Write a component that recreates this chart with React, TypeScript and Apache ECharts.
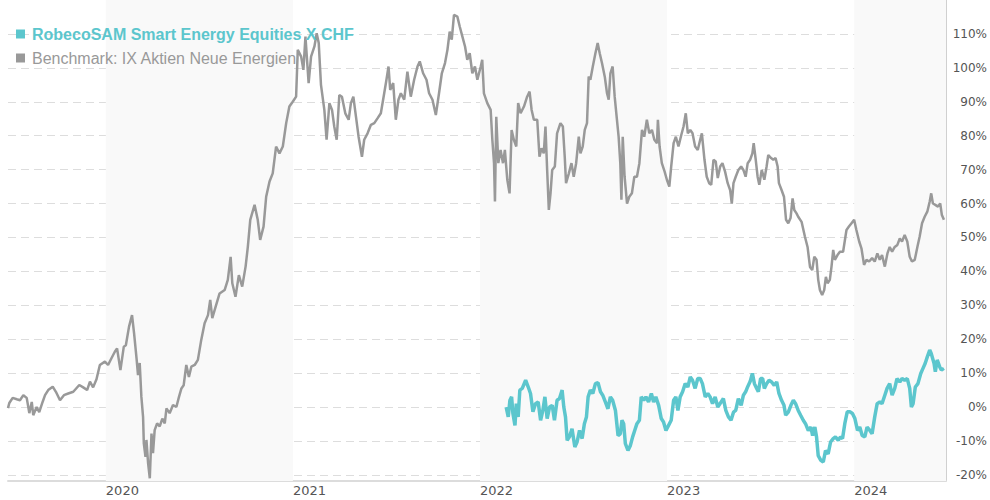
import React, { useEffect, useRef } from "react";
import * as echarts from "echarts";

// Dates as decimal years, values in %
const benchmarkDates: number[] = [
  2019.477, 2019.484, 2019.502, 2019.524, 2019.541, 2019.559, 2019.577, 2019.591, 2019.604, 2019.612,
  2019.630, 2019.644, 2019.662, 2019.675, 2019.692, 2019.716, 2019.733, 2019.755, 2019.776, 2019.799,
  2019.826, 2019.858, 2019.879, 2019.900, 2019.915, 2019.932, 2019.950, 2019.968, 2019.995, 2020.012,
  2020.030, 2020.048, 2020.060, 2020.078, 2020.096, 2020.107, 2020.124, 2020.140, 2020.151, 2020.164,
  2020.172, 2020.181, 2020.190, 2020.199, 2020.203, 2020.212, 2020.217, 2020.226, 2020.235, 2020.244,
  2020.252, 2020.261, 2020.274, 2020.288, 2020.302, 2020.315, 2020.324, 2020.341, 2020.359, 2020.377,
  2020.391, 2020.404, 2020.416, 2020.430, 2020.444, 2020.457, 2020.475, 2020.492, 2020.510, 2020.528,
  2020.546, 2020.558, 2020.569, 2020.587, 2020.608, 2020.635, 2020.652, 2020.667, 2020.676, 2020.693,
  2020.711, 2020.729, 2020.747, 2020.759, 2020.772, 2020.795, 2020.812, 2020.825, 2020.843, 2020.857,
  2020.875, 2020.892, 2020.910, 2020.928, 2020.946, 2020.964, 2020.981, 2020.999, 2021.017, 2021.026,
  2021.044, 2021.056, 2021.067, 2021.084, 2021.097, 2021.115, 2021.127, 2021.138, 2021.150, 2021.168,
  2021.180, 2021.195, 2021.209, 2021.221, 2021.234, 2021.248, 2021.262, 2021.280, 2021.298, 2021.310,
  2021.323, 2021.337, 2021.351, 2021.369, 2021.381, 2021.399, 2021.417, 2021.435, 2021.452, 2021.470,
  2021.488, 2021.500, 2021.511, 2021.520, 2021.536, 2021.550, 2021.564, 2021.577, 2021.595, 2021.612,
  2021.630, 2021.648, 2021.666, 2021.678, 2021.696, 2021.714, 2021.728, 2021.746, 2021.764, 2021.781,
  2021.796, 2021.813, 2021.826, 2021.838, 2021.849, 2021.861, 2021.879, 2021.892, 2021.906, 2021.920,
  2021.932, 2021.945, 2021.959, 2021.973, 2021.986, 2022.004, 2022.012, 2022.021, 2022.039, 2022.057,
  2022.066, 2022.075, 2022.080, 2022.087, 2022.098, 2022.110, 2022.123, 2022.133, 2022.146, 2022.158,
  2022.169, 2022.181, 2022.194, 2022.204, 2022.217, 2022.235, 2022.252, 2022.265, 2022.276, 2022.288,
  2022.306, 2022.318, 2022.329, 2022.341, 2022.350, 2022.359, 2022.368, 2022.377, 2022.386, 2022.400,
  2022.412, 2022.430, 2022.443, 2022.453, 2022.460, 2022.475, 2022.489, 2022.501, 2022.514, 2022.528,
  2022.537, 2022.549, 2022.560, 2022.572, 2022.581, 2022.590, 2022.603, 2022.617, 2022.629, 2022.640,
  2022.652, 2022.667, 2022.679, 2022.688, 2022.697, 2022.709, 2022.720, 2022.732, 2022.741, 2022.750,
  2022.756, 2022.763, 2022.773, 2022.786, 2022.798, 2022.812, 2022.825, 2022.839, 2022.852, 2022.866,
  2022.878, 2022.892, 2022.905, 2022.919, 2022.932, 2022.946, 2022.951, 2022.960, 2022.972, 2022.987,
  2022.999, 2023.012, 2023.022, 2023.035, 2023.047, 2023.061, 2023.076, 2023.088, 2023.100, 2023.111,
  2023.124, 2023.136, 2023.150, 2023.164, 2023.177, 2023.186, 2023.200, 2023.212, 2023.225, 2023.236,
  2023.248, 2023.260, 2023.271, 2023.284, 2023.296, 2023.310, 2023.324, 2023.337, 2023.346, 2023.355,
  2023.367, 2023.381, 2023.396, 2023.408, 2023.420, 2023.431, 2023.444, 2023.456, 2023.463, 2023.474,
  2023.484, 2023.493, 2023.506, 2023.520, 2023.532, 2023.541, 2023.556, 2023.568, 2023.580, 2023.591,
  2023.598, 2023.612, 2023.625, 2023.636, 2023.648, 2023.660, 2023.671, 2023.680, 2023.692, 2023.701,
  2023.719, 2023.737, 2023.751, 2023.764, 2023.776, 2023.787, 2023.799, 2023.808, 2023.817, 2023.829,
  2023.840, 2023.849, 2023.858, 2023.870, 2023.879, 2023.888, 2023.897, 2023.911, 2023.924, 2023.941,
  2023.959, 2023.972, 2023.986, 2024.000, 2024.012, 2024.027, 2024.039, 2024.053, 2024.066, 2024.080,
  2024.096, 2024.110, 2024.124, 2024.137, 2024.149, 2024.164, 2024.178, 2024.190, 2024.203, 2024.217,
  2024.231, 2024.244, 2024.256, 2024.270, 2024.284, 2024.297, 2024.309, 2024.324, 2024.338, 2024.350,
  2024.363, 2024.377, 2024.391, 2024.404, 2024.412, 2024.421, 2024.434, 2024.448, 2024.460, 2024.469,
  2024.480,
];
const benchmarkValues: number[] = [
  -0.3, 1.2, 2.7, 2.3, 2, 3.5, 2.7, -1.8, 1.5, -2.4,
  0, -1.5, 1.5, 3.5, 5, 6, 4.5, 2, 3.5, 4,
  4.5, 6.5, 5.8, 5, 7.5, 5.8, 8.2, 12.4, 13.4, 12.4,
  14.4, 16.3, 17.3, 10.9, 17.8, 18.2, 23.7, 27.1, 21.7, 14.4,
  9.4, 13, 3, -2.9, -10.7, -14.7, -9.7, -16.6, -21, -7.8,
  -13.6, -6.8, -4.8, -5.7, -3.4, -4.8, -0.4, -1.8, 0.6, 0,
  3, 5.5, 6.4, 12.4, 8.9, 11.9, 12.4, 13.9, 19.8, 24.7,
  27.1, 31.6, 26.2, 29.6, 33.5, 34.5, 37.5, 44.3, 36.5, 32.5,
  38.9, 35.5, 41.4, 47.2, 55.2, 59.6, 55.2, 49.3, 53.2, 62,
  66.5, 68.9, 76.8, 74.8, 76.8, 83.7, 88.6, 90, 91.5, 105.3,
  103.3, 99.4, 109.2, 95.5, 103.3, 106.3, 110.2, 107.3, 95, 87.6,
  78.8, 89.6, 87.6, 82.7, 78.8, 92, 91.5, 86.6, 84.7, 89.6,
  91.5, 85.6, 79.7, 73.8, 78.8, 80.7, 83.2, 83.7, 85.1, 86.6,
  92.5, 96.5, 100.4, 93.5, 95.5, 84.7, 90.6, 92.5, 90.6, 98.9,
  91.5, 96.5, 100.4, 101.9, 98.4, 96.5, 92.5, 90.6, 86.1, 92.5,
  98.4, 101.4, 105.3, 110.7, 108.3, 115.6, 115.1, 112.1, 109.2, 106.3,
  102.4, 104.3, 98.4, 100.4, 96.5, 100.4, 102.4, 92.5, 89.6, 87.6,
  78.8, 71.9, 60.6, 85.6, 71.9, 75.8, 71.9, 75.8, 67, 63,
  81.7, 78.8, 76.8, 89.6, 86.6, 88.6, 91.5, 93, 87.6, 84.7,
  84.7, 73.8, 76.3, 74.8, 82.7, 69.9, 58.1, 63, 69.9, 70.9,
  80.7, 83.7, 82.7, 73.8, 66, 68.9, 71.9, 67.9, 71.9, 79.7,
  74.8, 76.8, 81.7, 83.7, 97.4, 96.5, 100.4, 104.3, 107.3, 104.3,
  101.4, 97.4, 92.5, 90.6, 98.4, 100.4, 91.5, 84.7, 79.7, 71.9,
  61.1, 79.7, 67.9, 60, 62, 63, 67.9, 67.9, 71.9, 81.7,
  79.7, 84.7, 80.7, 81.7, 78.8, 77.8, 84.7, 76.8, 71.9, 69.4,
  67, 65, 70.9, 77.8, 79.7, 76.8, 80.2, 82.7, 86.6, 80.7,
  81.7, 80.7, 76.8, 75.8, 78.8, 80.7, 72.9, 67.9, 66, 65.5,
  72.9, 72.4, 67.5, 70.9, 71.9, 69.4, 66, 64, 60, 66,
  67.9, 69.9, 70.9, 69.9, 67.9, 71.9, 72.9, 74.8, 77.8, 72.9,
  67.9, 65.5, 69.9, 67, 70.9, 74.3, 73.4, 72.9, 73.4, 70.9,
  66, 64, 62, 55.2, 54.2, 55.7, 61.5, 58.1, 57.1, 56.1,
  54.6, 50.2, 47.2, 41.3, 40.4, 44.3, 43.4, 37.5, 34.5, 33,
  34.5, 38.4, 36.5, 37.5, 41.4, 46.3, 43.4, 44.8, 45.8, 45.8,
  52.2, 53.2, 54.2, 55.2, 52.2, 48.8, 46.8, 41.9, 43.4, 42.9,
  43.9, 42.9, 45.3, 43.4, 44.8, 41.4, 45.3, 47.2, 45.8, 47.2,
  47.8, 49.7, 48.8, 50.7, 48.8, 44.3, 42.9, 43.4, 47.2, 50.2,
  54.2, 56.1, 57.6, 60.6, 63, 60, 59.6, 59.1, 60, 56.6,
  55.2,
];

const fundDates: number[] = [
  2022.140, 2022.151, 2022.160, 2022.169, 2022.176, 2022.187, 2022.194, 2022.204, 2022.213, 2022.226,
  2022.244, 2022.258, 2022.270, 2022.283, 2022.297, 2022.311, 2022.324, 2022.336, 2022.347, 2022.359,
  2022.372, 2022.386, 2022.398, 2022.412, 2022.425, 2022.439, 2022.448, 2022.457, 2022.466, 2022.478,
  2022.492, 2022.507, 2022.519, 2022.532, 2022.546, 2022.558, 2022.569, 2022.578, 2022.590, 2022.603,
  2022.617, 2022.631, 2022.644, 2022.656, 2022.670, 2022.684, 2022.697, 2022.709, 2022.724, 2022.738,
  2022.750, 2022.759, 2022.768, 2022.777, 2022.791, 2022.804, 2022.816, 2022.827, 2022.839, 2022.852,
  2022.862, 2022.875, 2022.887, 2022.901, 2022.916, 2022.928, 2022.940, 2022.955, 2022.969, 2022.981,
  2022.994, 2023.008, 2023.022, 2023.035, 2023.047, 2023.058, 2023.070, 2023.083, 2023.097, 2023.111,
  2023.124, 2023.136, 2023.150, 2023.164, 2023.177, 2023.189, 2023.204, 2023.218, 2023.230, 2023.243,
  2023.257, 2023.271, 2023.289, 2023.301, 2023.314, 2023.328, 2023.342, 2023.355, 2023.367, 2023.381,
  2023.396, 2023.408, 2023.420, 2023.431, 2023.444, 2023.456, 2023.467, 2023.479, 2023.488, 2023.500,
  2023.511, 2023.520, 2023.532, 2023.545, 2023.559, 2023.573, 2023.586, 2023.598, 2023.612, 2023.625,
  2023.634, 2023.648, 2023.662, 2023.675, 2023.687, 2023.701, 2023.714, 2023.728, 2023.740, 2023.755,
  2023.769, 2023.778, 2023.790, 2023.799, 2023.808, 2023.822, 2023.835, 2023.847, 2023.861, 2023.874,
  2023.888, 2023.900, 2023.915, 2023.927, 2023.938, 2023.950, 2023.963, 2023.977, 2023.991, 2024.004,
  2024.018, 2024.030, 2024.043, 2024.057, 2024.069, 2024.084, 2024.096, 2024.110, 2024.123, 2024.137,
  2024.149, 2024.164, 2024.176, 2024.190, 2024.203, 2024.217, 2024.229, 2024.244, 2024.256, 2024.270,
  2024.284, 2024.297, 2024.306, 2024.315, 2024.327, 2024.341, 2024.356, 2024.368, 2024.380, 2024.391,
  2024.404, 2024.412, 2024.427, 2024.434, 2024.444, 2024.457, 2024.466, 2024.480,
];
const fundValues: number[] = [
  0, -2.9, 2, 3, -1.9, -5.4, 1, -2.9, 5, 5.5,
  7.9, 5.9, 4, -1.4, 1, 1.5, -3.9, -1, 3, -3.4,
  0, 0.5, -3.9, 2, 2.5, 5, 0, -2.9, -9.8, -8.8,
  -6.4, -11.8, -10.3, -6.9, -9.3, -4.9, -2.9, 3, 5, 4,
  6.9, 7.2, 4.5, 3.5, 1.5, -0.5, 3, 2, -1, -8.4,
  -7.9, -3.9, -4.9, -10.8, -12.8, -11.3, -8.8, -6.9, -4.9, -3.9,
  3, 2, 3, 1.5, 4, 1.5, 3, 0.5, -3.4, -4.4,
  -6.9, -5.4, -3.9, 2, 3, -1, 3, 4.5, 6.9, 5.9,
  8.9, 7.9, 5.5, 8.4, 8.4, 6.9, 3, 4, 3, 1,
  3, 0, 1.5, 2.5, -1, -2.9, -3.9, -1.5, -1, 2.5,
  0.5, 3.5, 4.5, 6, 7.5, 9.9, 6.9, 5.5, 4.5, 8.4,
  8.4, 5.5, 6.9, 7.9, 7.4, 6.4, 7.4, 4, 2, 0.5,
  -2.4, -1.5, 0.5, 2, 1, -1, -2.4, -3.9, -4.9, -6.9,
  -5.9, -8.4, -5.9, -8.8, -14.3, -15.7, -16.2, -12.8, -13.8, -10.3,
  -9.3, -8.8, -9.8, -8.8, -9.3, -4.9, -1.4, -1.4, -1.9, -3.4,
  -6.9, -5.9, -8.4, -8.8, -5.9, -6.9, -7.9, -2.9, 1, 1.5,
  1, 3.5, 5.5, 6.9, 3.5, 5.5, 8.4, 7.4, 8.4, 7.9,
  8.4, 5.5, 0, 1, 5.9, 6.9, 9.9, 11.4, 12.9, 14.8,
  16.8, 15.8, 12.9, 10.4, 13.9, 11.9, 10.9, 11.4,
];

const yearTicks: number[] = [2020, 2021, 2022, 2023, 2024];
const shadedYears: number[] = [2020, 2022, 2024];
const yTicks: number[] = [-20, -10, 0, 10, 20, 30, 40, 50, 60, 70, 80, 90, 100, 110];
const xStart = 2019.477;
const xEnd = 2024.491;
const yMin = -21.8;
const yMax = 120;

const FUND_NAME = "RobecoSAM Smart Energy Equities X CHF";
const BENCH_NAME = "Benchmark: IX Aktien Neue Energien";
const FUND_COLOR = "#5cc6cd";
const BENCH_COLOR = "#999999";

export default function App() {
  const ref = useRef<HTMLDivElement>(null);
  useEffect(() => {
    document.body.style.margin = "0";
    if (!ref.current) return;
    const chart = echarts.init(ref.current, undefined, { renderer: "svg" });
    const bench = benchmarkDates.map((d, i) => [d, benchmarkValues[i]]);
    const fund = fundDates.map((d, i) => [d, fundValues[i]]);
    const bands = shadedYears.map((y) => [
      { xAxis: y },
      { xAxis: Math.min(y + 1, xEnd) },
    ]);
    chart.setOption({
      animation: false,
      backgroundColor: "#ffffff",
      grid: { left: 8, right: 42, top: 0, bottom: 19 },
      legend: {
        orient: "vertical",
        left: 11,
        top: 21,
        itemWidth: 9,
        itemHeight: 9,
        itemGap: 8,
        icon: "rect",
        selectedMode: false,
        textStyle: {
          fontFamily: "Liberation Sans, Arial, sans-serif",
          fontSize: 16,
          lineHeight: 16,
          padding: [0, 0, 0, 2],
        },
        data: [
          { name: FUND_NAME, textStyle: { color: FUND_COLOR, fontWeight: "bold" } },
          { name: BENCH_NAME, textStyle: { color: "#999999", fontWeight: "normal" } },
        ],
      },
      xAxis: {
        type: "value",
        min: xStart,
        max: xEnd,
        axisLine: { show: true, onZero: false, lineStyle: { color: "#dcdcdc", width: 2 } },
        axisTick: { show: false, customValues: yearTicks },
        splitLine: { show: false },
        axisLabel: {
          customValues: yearTicks,
          formatter: (v: number) => String(Math.round(v)),
          align: "left",
          margin: 3,
          color: "#555555",
          fontFamily: "DejaVu Sans, Verdana, sans-serif",
          fontSize: 13,
        },
      },
      yAxis: {
        type: "value",
        position: "right",
        min: yMin,
        max: yMax,
        axisLine: { show: true, lineStyle: { color: "#d0d0d0", width: 1 } },
        axisTick: { show: false, customValues: yTicks },
        splitLine: {
          show: true,
          lineStyle: { color: "#dddddd", type: [8, 5], width: 1 },
        },
        axisLabel: {
          customValues: yTicks,
          formatter: (v: number) => `${v}%`,
          align: "right",
          margin: 41,
          color: "#555555",
          fontFamily: "DejaVu Sans, Verdana, sans-serif",
          fontSize: 12,
        },
      },
      series: [
        {
          name: BENCH_NAME,
          type: "line",
          data: bench,
          symbol: "none",
          color: BENCH_COLOR,
          lineStyle: { color: BENCH_COLOR, width: 2.5 },
          z: 2,
          markArea: {
            silent: true,
            itemStyle: { color: "#f9f9f9" },
            data: bands,
          },
        },
        {
          name: FUND_NAME,
          type: "line",
          data: fund,
          symbol: "none",
          color: FUND_COLOR,
          lineStyle: { color: FUND_COLOR, width: 3.5 },
          z: 3,
        },
      ],
    });
    return () => chart.dispose();
  }, []);
  return <div ref={ref} style={{ width: 990, height: 500 }} />;
}
